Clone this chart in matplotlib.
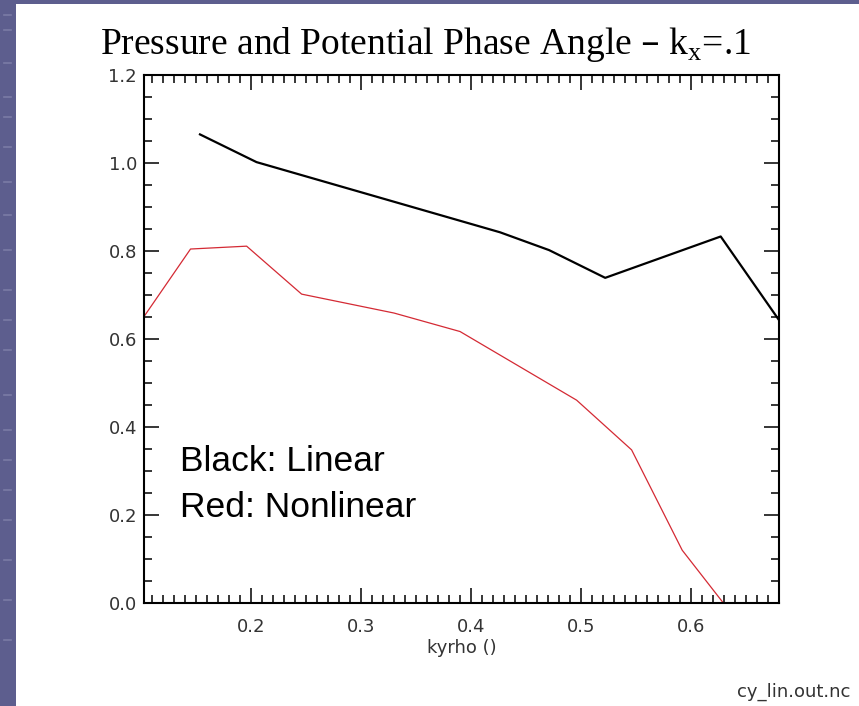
import matplotlib
matplotlib.use("Agg")
import matplotlib.pyplot as plt
from matplotlib.patches import Rectangle
from matplotlib.ticker import MultipleLocator

# kyrho vs phase angle
lin_kyrho = [0.1536, 0.205, 0.4264, 0.471, 0.522, 0.627, 0.68]
lin_angle = [1.065, 1.002, 0.8425, 0.802, 0.739, 0.833, 0.643]

nl_kyrho = [0.1027, 0.145, 0.196, 0.246, 0.33, 0.39, 0.496, 0.546, 0.592, 0.6294]
nl_angle = [0.651, 0.8045, 0.811, 0.702, 0.659, 0.617, 0.461, 0.348, 0.12, 0.0]

xticks = [0.2, 0.3, 0.4, 0.5, 0.6]
yticks = [0.0, 0.2, 0.4, 0.6, 0.8, 1.0, 1.2]

fig = plt.figure(figsize=(8.59, 7.06), dpi=100)
fig.patch.set_facecolor("white")

# slide background strips
band = "#5d5e8e"
fig.patches.append(Rectangle((0, 0), 16 / 859, 1, transform=fig.transFigure,
                             facecolor=band, edgecolor="none", zorder=0))
fig.patches.append(Rectangle((0, 1 - 4 / 706), 1, 4 / 706, transform=fig.transFigure,
                             facecolor=band, edgecolor="none", zorder=0))
for yy in [15, 30, 63, 97, 117, 147, 182, 215, 250, 290, 320, 350, 395, 430, 460, 490, 520, 560, 600, 640]:
    fig.lines.append(plt.Line2D([4 / 859, 11 / 859], [1 - yy / 706] * 2, transform=fig.transFigure,
                                color="#7a7ba6", lw=1.2, zorder=1))

ax = fig.add_axes([144 / 859, 1 - 603 / 706, 635 / 859, 528 / 706])
ax.plot(lin_kyrho, lin_angle, color="black", lw=1.6)
ax.plot(nl_kyrho, nl_angle, color="#d42a34", lw=0.9)

ax.set_xlim(0.1027, 0.68)
ax.set_ylim(0.0, 1.2)
ax.set_xticks(xticks)
ax.set_yticks(yticks)
ax.xaxis.set_minor_locator(MultipleLocator(0.01))
ax.yaxis.set_minor_locator(MultipleLocator(0.05))
ax.set_xticklabels(["%.1f" % v for v in xticks])
ax.set_yticklabels(["%.1f" % v for v in yticks])
ax.tick_params(which="both", direction="in", top=True, right=True, width=1.1,
               labelsize=13, labelcolor="#333333")
ax.tick_params(axis="x", which="both", pad=11)
ax.tick_params(axis="y", which="both", pad=5)
ax.tick_params(which="major", length=11)
ax.tick_params(which="minor", length=6)
for s in ax.spines.values():
    s.set_linewidth(1.5)
ax.set_xlabel("kyrho ()", fontsize=13, color="#333333", labelpad=2)

fig.text(425 / 859, 1 - 54 / 706, "Pressure and Potential Phase Angle \u2013 k$_\\mathregular{x}$=.1",
         family="Liberation Serif", fontsize=27, ha="center", va="baseline")
fig.text(180 / 859, 1 - 470.7 / 706, "Black: Linear", family="Liberation Sans",
         fontsize=25.5, va="baseline")
fig.text(180 / 859, 1 - 517.4 / 706, "Red: Nonlinear", family="Liberation Sans",
         fontsize=25.5, va="baseline")
fig.text(850 / 859, 1 - 697 / 706, "cy_lin.out.nc", fontsize=13, color="#333333",
         ha="right", va="baseline")

fig.savefig("out.png", dpi=100)
